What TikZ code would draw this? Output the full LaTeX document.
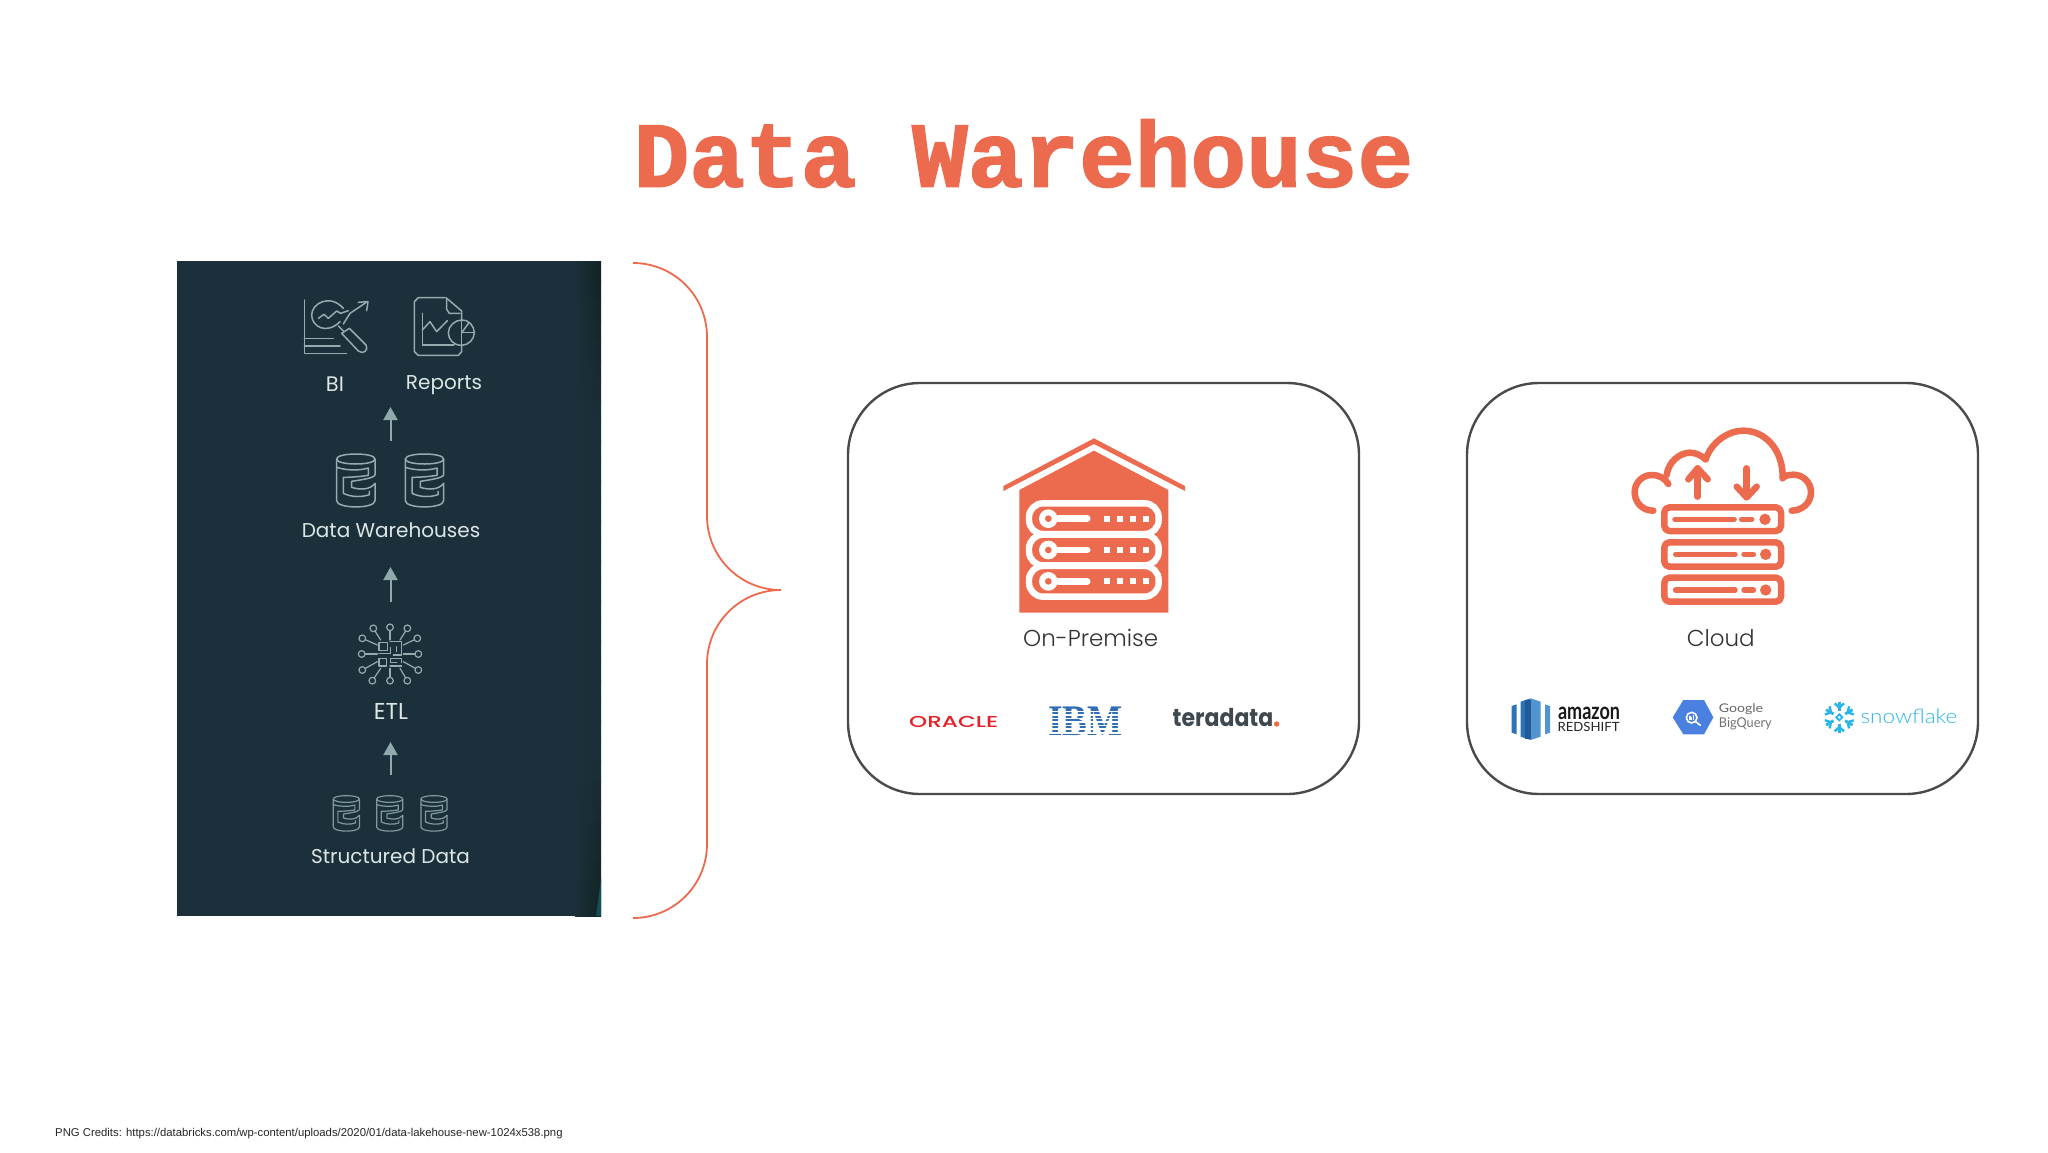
\documentclass[tikz,border=0pt]{standalone}
\usepackage{fontspec}
\usepackage{graphicx}
\usetikzlibrary{arrows.meta}
\setmainfont{Liberation Sans}
\newfontfamily\titlefont[BoldFeatures={FakeBold=1.6}]{Liberation Mono}
\newfontfamily\popfont{Poppins}
\newfontfamily\poplight{Poppins Light}
\newfontfamily\popmedium{Poppins Medium}
\newfontfamily\latofont{Lato}
\newfontfamily\latolight{Lato Light}
\newfontfamily\serfont{Liberation Serif}
\newcommand{\fitbox}[3]{\resizebox*{#1pt}{#2pt}{#3}}
\definecolor{accent}{HTML}{EC6A4E}
\definecolor{panelbg}{HTML}{1B303A}
\definecolor{paneldk}{HTML}{11201F}
\definecolor{iconln}{HTML}{93ACB0}
\definecolor{iconlo}{HTML}{7F999D}
\definecolor{arrowc}{HTML}{8FA9AC}
\definecolor{labelc}{HTML}{DCE6E6}
\definecolor{boxln}{HTML}{4A4A4A}
\definecolor{rsdark}{HTML}{2E73B8}
\definecolor{rsmid}{HTML}{205B97}
\definecolor{rslight}{HTML}{5294CF}
\definecolor{bqblue}{HTML}{4A80E0}
\definecolor{snow}{HTML}{29B5E8}
\tikzset{
  panellabel/.style={text=labelc,font=\popfont\fontsize{20}{24}\selectfont,inner sep=0pt},
  upflow/.style={draw=arrowc,line width=2pt,-{Triangle[width=14pt,length=13pt]}},
  storagebox/.style={draw=boxln,line width=2.4pt,rounded corners=72pt},
  boxtitle/.style={text=black!80,font=\poplight\fontsize{23}{27}\selectfont,inner sep=0pt},
  logotext/.style={inner sep=0pt},
  icon/.style={draw=iconln,line width=1.5pt,line cap=round,line join=round},
  iconsoft/.style={draw=iconlo,line width=1.2pt,line cap=round,line join=round},
  cloudln/.style={draw=accent,line width=6.5pt,line cap=round,line join=round},
  z1/.style={shift={(170,250)},scale=1/3},
  z2/.style={shift={(170,590)},scale=1/3},
  z3/.style={shift={(950,410)},scale=1/3},
  z4/.style={shift={(880,680)},scale=1/3},
  z5/.style={shift={(1600,410)},scale=1/3},
  z6/.style={shift={(1490,680)},scale=1/3},
}
\newcommand{\dbicon}[5]{%
  \begin{scope}[#5,shift={(#1,#2)},xscale=#3,yscale=#4]
    \draw (0,15) .. controls (0,-5) and (115,-5) .. (115,15) .. controls (115,35) and (0,35) .. (0,15);
    \draw (0,15) -- (0,140) .. controls (0,165) and (115,165) .. (115,140) -- (115,88);
    \draw (115,15) -- (115,62) .. controls (115,72) and (70,78) .. (45,82) -- (45,100) .. controls (70,108) and (100,108) .. (115,88);
    \draw (0,40) .. controls (30,50) and (70,50) .. (95,42) -- (95,64) .. controls (70,68) and (40,70) .. (20,70) -- (20,118) .. controls (45,130) and (75,130) .. (98,122) -- (98,112);
  \end{scope}}
\begin{document}
\begin{tikzpicture}[x=1pt,y=-1pt]
\useasboundingbox (0,0) rectangle (2048,1152);
\fill[white] (0,0) rectangle (2048,1152);

\node[text=accent,inner sep=0pt,font=\titlefont\bfseries\fontsize{92.8}{100}\selectfont] (title) at (1023.5,153.5) {Data Warehouse};

% panel
\fill[panelbg] (177,261) rectangle (601,916);
\foreach \t in {0,...,32} {
  \pgfmathsetmacro{\yy}{261+\t*20}
  \pgfmathsetmacro{\ymid}{\yy+10}
  \pgfmathsetmacro{\pp}{\ymid<420 ? 90-(\ymid-261)*0.5 : (\ymid>760 ? 10+(\ymid-760)*0.5 : 10)}
  \pgfmathsetmacro{\yend}{min(916,\yy+20.6)}
  \shade[left color=panelbg,right color=paneldk!\pp!panelbg] (575,\yy) rectangle (601,\yend);
}
\fill[panelbg!60!teal] (601,878) -- (601,916) -- (596,916) -- cycle;

% BI icon
\begin{scope}[z1,icon]
  \draw (403,150) -- (403,310) -- (530,310);
  \draw (403,265) -- (490,265);
  \draw (403,288) -- (510,288);
  \draw (510,215) .. controls (470,255) and (425,230) .. (425,195) .. controls (425,160) and (480,130) .. (520,175);
  \draw (445,205) -- (462,193) -- (475,205) -- (500,183) -- (512,190) -- (535,182);
  \draw (520,222) -- (540,190) -- (592,155);
  \draw (565,157) -- (594,155) -- (590,182);
  \draw (505,228) -- (522,245);
  \draw (515,250) -- (538,235) -- (588,285) .. controls (597,300) and (580,315) .. (565,303) -- cycle;
\end{scope}
% Reports icon
\begin{scope}[z1,icon]
  \draw (825,143) -- (745,143) -- (733,155) -- (733,305) -- (745,316) -- (865,316) -- (875,305) -- (875,288);
  \draw (828,143) -- (875,183) -- (875,212);
  \draw (830,148) -- (830,178) -- (838,190) -- (870,190);
  \draw (757,190) -- (757,285) -- (852,285);
  \draw (757,240) -- (780,215) -- (800,245) -- (832,212);
  \draw (875,210) .. controls (895,208) and (913,228) .. (913,248) .. controls (913,268) and (895,286) .. (875,286) .. controls (850,286) and (835,268) .. (835,248) .. controls (835,228) and (855,210) .. (875,210);
  \draw (875,210) -- (875,286);
  \draw (875,248) -- (913,248);
  \draw (875,248) -- (897,218);
\end{scope}
\node[panellabel,font=\popfont\fontsize{21}{24}\selectfont] (bi) at (335,384) {BI};
\node[panellabel] (reports) at (444,385) {Reports};

\coordinate (a1s) at (390.5,441);
\coordinate (a1e) at (390.5,407);
\draw[upflow] (a1s) -- (a1e);

% warehouses
\dbicon{500}{612}{1}{1}{z1,icon}
\dbicon{706}{612}{1}{1}{z1,icon}
\node[panellabel] (dw) at (391,530) {Data Warehouses};

\coordinate (a2s) at (390.5,602);
\coordinate (a2e) at (390.5,567);
\draw[upflow] (a2s) -- (a2e);

% ETL icon
\begin{scope}[z2,icon,line width=1.2pt]
  \foreach \x/\y/\u/\v in {660/112/660/150,610/115/632/150,712/115/690/150,577/145/622/165,742/145/700/165,575/192/622/192,745/192/700/192,577/240/622/215,745/240/700/215,607/272/632/235,660/272/660/235,712/272/690/235} {
    \draw (\x,\y) -- (\u,\v);
    \filldraw[fill=panelbg] (\x,\y) circle (10);
  }
  \draw (627,157) rectangle (652,182);
  \draw (627,205) rectangle (650,228);
  \draw (660,155) -- (695,155) -- (695,195) -- (670,195);
  \draw (662,172) -- (662,190) -- (627,190);
  \draw (680,170) -- (680,185);
  \draw (662,205) -- (695,205) -- (695,218);
  \draw (660,228) -- (695,228);
  \draw (662,205) -- (662,218) -- (680,218);
\end{scope}
\node[panellabel,font=\popfont\fontsize{23}{24}\selectfont] (etl) at (391,711) {ETL};

\coordinate (a3s) at (390.5,775);
\coordinate (a3e) at (390.5,742);
\draw[upflow] (a3s) -- (a3e);

% structured data
\dbicon{490}{617}{0.68}{0.67}{z2,iconsoft}
\dbicon{620}{617}{0.68}{0.67}{z2,iconsoft}
\dbicon{753}{617}{0.68}{0.67}{z2,iconsoft}
\node[panellabel] (sd) at (390.5,856) {Structured Data};

% brace
\coordinate (bt) at (633,263);
\coordinate (bb) at (633,918);
\coordinate (btip) at (781,590);
\draw[draw=accent,line width=1.8pt] (bt) .. controls (674,263) and (707,296) .. (707,337) -- (707,516) .. controls (707,557) and (740,590) .. (btip) .. controls (740,590) and (707,623) .. (707,664) -- (707,844) .. controls (707,885) and (674,918) .. (bb);

% boxes
\draw[storagebox] (848,383) rectangle (1359,794);
\draw[storagebox] (1467,383) rectangle (1978,794);

% house icon
\begin{scope}[z3]
  \fill[accent] (432,85) -- (705,228) -- (705,243) -- (432,102) -- (160,243) -- (160,228) -- cycle;
  \fill[accent] (432,122) -- (655,240) -- (655,608) -- (208,608) -- (208,240) -- cycle;
  \foreach \c in {326,420,514} {
    \draw[white,line width=6.4pt,rounded corners=14pt] (237,\c-46) rectangle (626,\c+46);
  }
  \foreach \c in {326,420,514} {
    \draw[white,line width=6.4pt,line cap=round] (325,\c) -- (412,\c);
    \fill[white] (295,\c) circle (28);
    \fill[accent] (295,\c) circle (10);
    \foreach \d in {470,510,548,588} {
      \fill[white] (\d-9,\c-9) rectangle (\d+9,\c+9);
    }
  }
\end{scope}
\node[boxtitle] (onprem) at (1090.7,638) {On-Premise};

% cloud icon
\begin{scope}[z5,cloudln]
  \draw (160,302) .. controls (125,302) and (104,275) .. (104,247) .. controls (104,215) and (130,195) .. (155,195) .. controls (178,195) and (195,205) .. (205,222);
  \draw (200,195) .. controls (205,155) and (240,128) .. (270,128) .. controls (290,128) and (305,138) .. (317,148);
  \draw (317,148) .. controls (335,95) and (385,62) .. (430,62) .. controls (500,62) and (550,125) .. (548,205);
  \draw (548,203) .. controls (560,195) and (570,194) .. (580,194) .. controls (610,194) and (633,218) .. (633,247) .. controls (633,280) and (605,302) .. (575,302);
  \draw (293,260) -- (293,175);
  \draw (265,208) -- (293,175) -- (323,208);
  \draw (440,175) -- (440,260);
  \draw (410,230) -- (440,262) -- (470,230);
  \draw[rounded corners=5pt] (193,292) rectangle (543,363);
  \draw[rounded corners=5pt] (193,397) rectangle (543,470);
  \draw[rounded corners=5pt] (193,503) rectangle (543,575);
  \draw[line width=5.5pt] (225,328) -- (402,328) (425,328) -- (455,328);
  \draw[line width=5.5pt] (227,433) -- (405,433) (432,433) -- (460,433);
  \draw[line width=5.5pt] (227,540) -- (405,540) (432,540) -- (460,540);
  \fill[accent,draw=none] (495,328) circle (17) (497,433) circle (17) (497,540) circle (17);
\end{scope}
\node[boxtitle] (cloud) at (1720.7,638) {Cloud};

% logos on-premise
\node[logotext,text={rgb,255:red,226;green,35;blue,42}] (oracle) at (953.7,721.7) {\fitbox{89}{11.3}{\popmedium ORACLE}};
\node[logotext,text={rgb,255:red,47;green,110;blue,180}] (ibm) at (1085.5,721.7) {\fitbox{74.4}{28.7}{\serfont\bfseries IBM}};
\foreach \k in {0,...,7} {
  \fill[white] (1046,710.6+\k*3.56) rectangle (1125,712.2+\k*3.56);
}
\node[logotext,text={rgb,255:red,62;green,72;blue,78}] (teradata) at (1223,717.5) {\fitbox{100.6}{18.4}{\popfont\bfseries teradata}};
\fill[accent!85!orange] (1276.7,724) circle (2.7);

% logos cloud
\begin{scope}[z6]
  \fill[rsdark] (65,78) -- (80,73) -- (80,163) -- (65,158) -- cycle;
  \fill[rsdark] (92,65) -- (122,55) -- (122,180) -- (92,170) -- cycle;
  \fill[rslight] (122,55) -- (152,65) -- (152,170) -- (122,180) -- cycle;
  \fill[rslight] (165,73) -- (180,78) -- (180,158) -- (165,163) -- cycle;
  \fill[rsmid] (106,60) rectangle (122,176);
\end{scope}
\node[logotext,text=black!90] (amazon) at (1589,713) {\fitbox{62}{12.6}{\latofont\bfseries amazon}};
\node[logotext,text=black!85] (redshift) at (1588.5,727) {\fitbox{62}{9.3}{\latofont REDSHIFT}};
\begin{scope}[z6]
  \fill[bqblue] (548,112) -- (580,60) -- (642,60) -- (670,112) -- (642,163) -- (580,163) -- cycle;
  \draw[white,line width=1.6pt] (605,113) circle (16);
  \draw[white,line width=1.6pt,line cap=round] (617,125) -- (631,136);
  \draw[white,line width=1.2pt] (600,108) -- (600,119) (605,112) -- (605,119) (610,105) -- (610,119);
\end{scope}
\node[logotext,text=black!60] (google) at (1741,709.5) {\fitbox{44.3}{11}{\latofont Google}};
\node[logotext,text=black!55] (bigquery) at (1745.3,723.8) {\fitbox{52.7}{12.3}{\latofont BigQuery}};
\begin{scope}[z6,shift={(1048,112)}]
  \foreach \a in {30,90,150,210,270,330} {
    \begin{scope}[rotate=\a]
      \draw[snow,line width=2.8pt] (20,0) -- (46,0);
      \draw[snow,line width=2.4pt] (42,-14) -- (29,0) -- (42,14);
    \end{scope}
  }
  \draw[snow,line width=1.8pt] (0,-9) -- (9,0) -- (0,9) -- (-9,0) -- cycle;
\end{scope}
\node[logotext,text=snow] (snowflake) at (1909,716.7) {\fitbox{96.7}{14.7}{\latolight snowflake}};

% footer
\node[anchor=west,inner sep=0pt,text=black!85,font=\fontsize{11.33}{14}\selectfont] (credits) at (55,1134) {PNG Credits: https://databricks.com/wp-content/uploads/2020/01/data-lakehouse-new-1024x538.png};
\end{tikzpicture}
\end{document}
